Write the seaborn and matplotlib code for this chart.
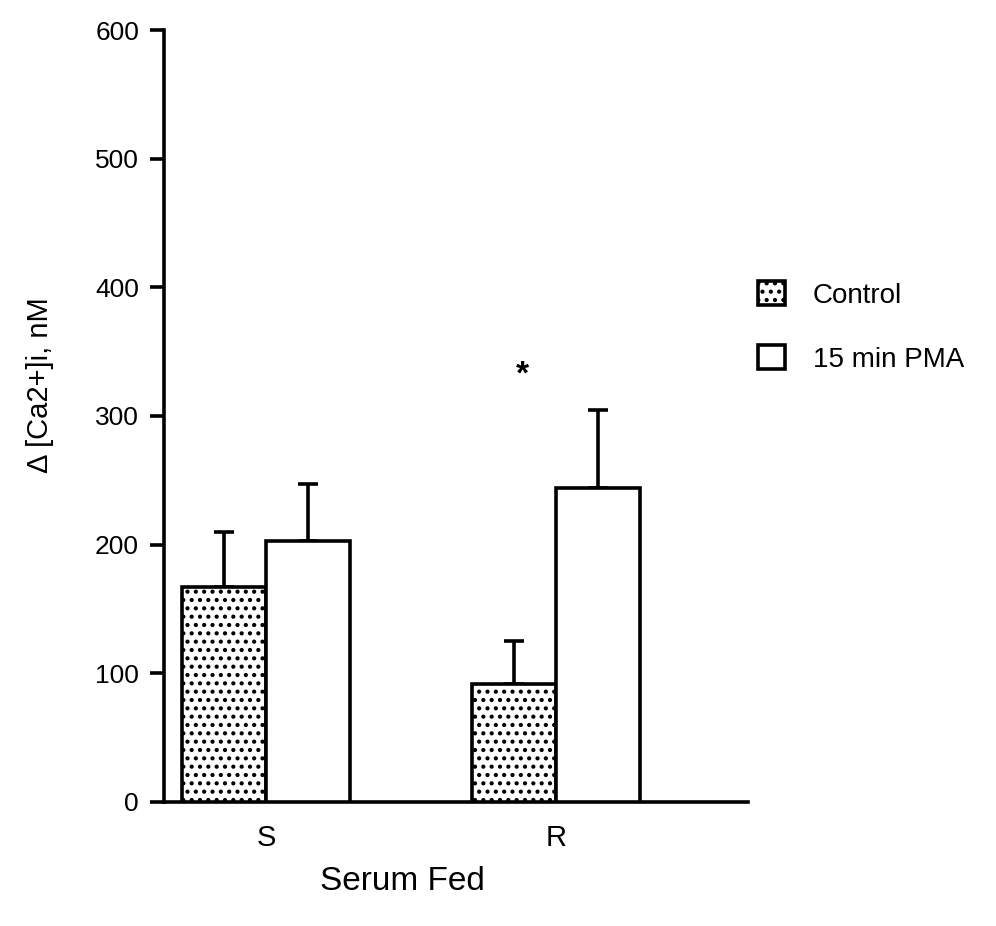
import matplotlib
matplotlib.use("Agg")
import matplotlib.pyplot as plt
import matplotlib.patches as mpatches
import seaborn as sns
import pandas as pd

# Mean rise in intracellular calcium and upper SEM for each cell line / treatment
cell_lines = ["S", "R"]
treatments = ["Control", "15 min PMA"]
control_mean = [167, 92]
control_sem = [43, 33]
pma_mean = [203, 244]
pma_sem = [44, 61]
yticks = [0, 100, 200, 300, 400, 500, 600]

df = pd.DataFrame({
    "line": cell_lines * 2,
    "treatment": [treatments[0]] * 2 + [treatments[1]] * 2,
    "value": control_mean + pma_mean,
    "sem": control_sem + pma_sem,
})

sns.set_theme(style="ticks")
plt.rcParams["font.family"] = ["Liberation Sans", "DejaVu Sans"]
plt.rcParams["hatch.linewidth"] = 1.8
plt.rcParams["hatch.color"] = "black"
plt.rcParams["text.color"] = "black"

fig = plt.figure(figsize=(9.96, 9.26), dpi=100)
ax = fig.add_axes([0.1647, 0.134, 0.5863, 0.8336])

lw = 2.6
bar_width = 0.58
sns.barplot(data=df, x="line", y="value", hue="treatment", order=cell_lines,
            hue_order=treatments, width=bar_width, errorbar=None,
            palette=["white", "white"], edgecolor="black", linewidth=lw,
            legend=False, ax=ax)

# dotted fill for the control bars, one-sided SEM whiskers on every bar
for container, tr in zip(ax.containers, treatments):
    sub = df[df["treatment"] == tr].set_index("line").loc[cell_lines]
    for bar, (_, row) in zip(container, sub.iterrows()):
        if tr == "Control":
            bar.set_hatch("..")
        bar.set_zorder(3)
        cx = bar.get_x() + bar.get_width() / 2
        ax.errorbar(cx, row["value"], yerr=[[0], [row["sem"]]], fmt="none",
                    ecolor="black", elinewidth=lw, capsize=7.5, capthick=lw,
                    zorder=2)

# significance mark above the R control bar
ax.text(0.883, 332, "*", ha="center", va="center", fontsize=24,
        fontweight="bold", color="black")

ax.set_ylim(0, 600)
ax.set_xlim(-0.352, 1.662)
ax.set_yticks(yticks)
ax.set_yticklabels([str(v) for v in yticks], fontsize=19)
ax.tick_params(axis="y", length=10, width=lw, color="black", pad=8,
               labelcolor="black")
ax.tick_params(axis="x", length=0, pad=16, labelsize=21, labelcolor="black")
for lbl in ax.get_xticklabels():
    lbl.set_x(lbl.get_position()[0])
ax.set_xlabel("")
ax.set_ylabel("")
sns.despine(ax=ax)
for side in ("left", "bottom"):
    ax.spines[side].set_linewidth(lw)
    ax.spines[side].set_color("black")

fig.text(402 / 996, 1 - 882 / 926, "Serum Fed", ha="center", va="center",
         fontsize=24, color="black")
fig.text(40 / 996, 1 - 385 / 926, "Δ [Ca2+]i, nM", ha="center",
         va="center", rotation=90, fontsize=21, color="black")

handles = [
    mpatches.Patch(facecolor="white", edgecolor="black", hatch="..",
                   linewidth=lw, label=treatments[0]),
    mpatches.Patch(facecolor="white", edgecolor="black", linewidth=lw,
                   label=treatments[1]),
]
leg = fig.legend(handles=handles, loc="upper left",
                 bbox_to_anchor=(739 / 996, 1 - 262 / 926), frameon=False,
                 fontsize=20, handlelength=0.95, handleheight=0.95,
                 handletextpad=1.0, labelspacing=1.3, borderpad=0.2)
for t in leg.get_texts():
    t.set_color("black")

fig.savefig("out.png", dpi=100, facecolor="white")
